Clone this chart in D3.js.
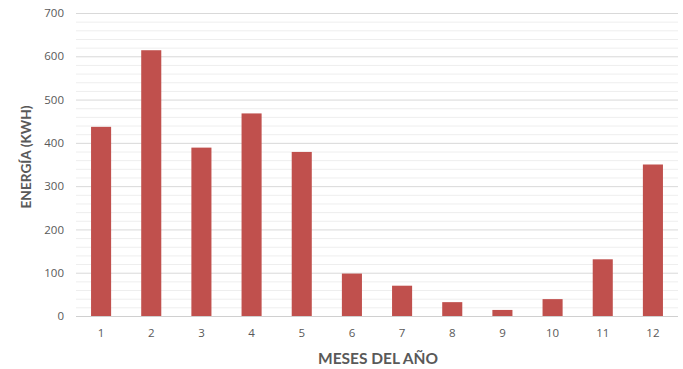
<!DOCTYPE html>
<html><head><meta charset="utf-8">
<script src="https://cdn.jsdelivr.net/npm/d3@7"></script>
<style>body{margin:0;background:#fff}svg{display:block}</style>
</head><body><svg id="c" width="683" height="369"></svg>
<script>
const months = ["1","2","3","4","5","6","7","8","9","10","11","12"];
const energy = [437, 614, 389, 468, 379, 98, 70, 32, 14, 39, 131, 350];
const yTicks = [0,100,200,300,400,500,600,700];
const minorTicks = d3.range(0, 701, 20);

const svg = d3.select("#c");
const x = d3.scaleBand().domain(months).range([76, 678]).paddingInner(0.6).paddingOuter(0.3);
const y = d3.scaleLinear().domain([0,700]).range([316, 13]);
const font = "'Open Sans', Lato, sans-serif";
const tfont = "Lato, 'Open Sans', sans-serif";

// minor grid
svg.append("g").selectAll("line").data(minorTicks.filter(v => v % 100 !== 0)).join("line")
  .attr("x1", 76).attr("x2", 678).attr("y1", d => y(d)+0.5).attr("y2", d => y(d)+0.5)
  .attr("stroke", "#eeeeee").attr("stroke-width", 1);
// major grid
svg.append("g").selectAll("line").data(yTicks).join("line")
  .attr("x1", 76).attr("x2", 678).attr("y1", d => y(d)+0.5).attr("y2", d => y(d)+0.5)
  .attr("stroke", d => d === 0 ? "#d0d0d0" : "#d9d9d9").attr("stroke-width", 1);

// y axis labels
const ya = svg.append("g").attr("transform", "translate(64,0)")
  .call(d3.axisLeft(y).tickValues(yTicks).tickSize(0).tickPadding(0));
ya.select(".domain").remove();
ya.selectAll("text").attr("fill", "#595959").style("font-family", font).style("font-size", "11.5px");

// x axis labels
const xa = svg.append("g").attr("transform", "translate(0,329)")
  .call(d3.axisBottom(x).tickSize(0).tickPadding(0));
xa.select(".domain").remove();
xa.selectAll("text").attr("fill", "#595959").style("font-family", font).style("font-size", "11.5px");

// bars
svg.append("g").selectAll("rect").data(energy).join("rect")
  .attr("x", (d,i) => x(months[i])).attr("width", x.bandwidth())
  .attr("y", d => y(d)).attr("height", d => y(0) - y(d))
  .attr("fill", "#c0504d");

// axis titles
svg.append("text").attr("x", 378).attr("y", 364).attr("text-anchor", "middle")
  .attr("fill", "#595959").style("font-family", tfont).style("font-size", "15.5px").style("font-weight", "bold")
  .attr("textLength", 120).attr("lengthAdjust", "spacingAndGlyphs")
  .text("MESES DEL AÑO");
svg.append("text").attr("transform", "translate(31,157) rotate(-90)").attr("text-anchor", "middle")
  .attr("fill", "#595959").style("font-family", tfont).style("font-size", "14px").style("font-weight", "bold")
  .attr("textLength", 103).attr("lengthAdjust", "spacingAndGlyphs")
  .text("ENERGÍA (KWH)");
</script></body></html>
